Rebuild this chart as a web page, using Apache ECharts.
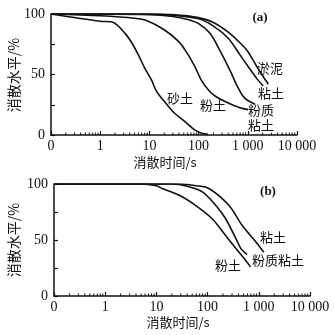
<!DOCTYPE html>
<html>
<head>
<meta charset="utf-8">
<script src="https://cdn.jsdelivr.net/npm/echarts@6/dist/echarts.min.js"></script>
<style>
  html, body { margin: 0; padding: 0; background: #fff; }
  #chart { width: 334px; height: 335px; }
</style>
</head>
<body>
<div id="chart"></div>
<script>
// panel (a)
var sandTimeA = [0.1, 1, 1.85, 3.2, 4.4, 6, 8.1, 11, 14, 19, 30.6, 53, 85, 115, 155];
var sandLevelA = [100, 94, 93, 84, 76, 66, 55, 45.5, 36, 29, 19, 11, 4, 1.4, 0.5];
var siltTimeA = [0.1, 1, 5, 9, 20, 40, 62, 85, 115, 160, 220, 370, 690, 1020];
var siltLevelA = [100, 98.5, 96.5, 94.5, 87, 77, 66, 56, 45, 37, 32, 27, 22.5, 21];
var siltyClayTimeA = [0.1, 10, 30, 60, 100, 170, 270, 440, 600, 800, 1000, 1400];
var siltyClayLevelA = [100, 99.5, 98, 95.5, 92, 84, 70, 53, 41, 32, 28.5, 25.5];
var clayTimeA = [0.1, 10, 30, 100, 200, 400, 700, 1000, 1500, 2050];
var clayLevelA = [100, 100, 99, 96, 90, 80, 66, 57, 47, 40.5];
var sludgeTimeA = [0.1, 10, 30, 100, 200, 400, 700, 1000, 1500, 2000, 2630];
var sludgeLevelA = [100, 100, 99.5, 97, 93, 85, 76, 69, 57, 49, 42];

// panel (b)
var siltTimeB = [0.1, 5, 10, 13, 28, 58, 123, 225, 355, 550, 690];
var siltLevelB = [100, 100, 98.5, 96, 90, 81, 69, 54, 42.6, 32, 26];
var siltyClayTimeB = [0.1, 20, 40, 79, 144, 225, 355, 443, 500, 590];
var siltyClayLevelB = [100, 100, 98, 93, 81, 69, 51.5, 42.6, 40, 37];
var clayTimeB = [0.1, 30, 60, 106, 260, 475, 870, 1260];
var clayLevelB = [100, 100, 98.5, 96, 81, 63, 48.5, 39];

// log minor tick positions on the time axis
var decades = [0.1, 1, 10, 100, 1000];
var minorSteps = [2, 3, 4, 5, 6, 7, 8, 9];

var serif = '"Liberation Serif", "DejaVu Serif", serif';
var cjk = '"Noto Sans CJK SC", sans-serif';

function pairs(xs, ys) {
    var out = [];
    for (var i = 0; i < xs.length; i++) out.push([xs[i], ys[i]]);
    return out;
}

var minorTicks = [];
decades.forEach(function (d) {
    minorSteps.forEach(function (m) { minorTicks.push([d * m, 0]); });
});

function fmtTime(v) {
    if (v < 1) return '0';
    if (v >= 10000) return '10 000';
    if (v >= 1000) return '1 000';
    return String(Math.round(v));
}

function xAxisCfg(gi) {
    return {
        type: 'log', logBase: 10, min: 0.1, max: 10000, gridIndex: gi,
        axisLine: { lineStyle: { color: '#111', width: 1.5 } },
        axisTick: { inside: true, length: 4, lineStyle: { color: '#111', width: 1.2 } },
        axisLabel: { color: '#111', fontFamily: serif, fontSize: 14, margin: 4, formatter: fmtTime },
        splitLine: { show: false }
    };
}

function yAxisCfg(gi) {
    return {
        type: 'value', min: 0, max: 100, interval: 50, gridIndex: gi,
        axisLine: { show: true, lineStyle: { color: '#111', width: 1.5 } },
        axisTick: { show: true, inside: true, length: 4, lineStyle: { color: '#111', width: 1.2 } },
        minorTick: { show: true, splitNumber: 2, length: 4, lineStyle: { color: '#111', width: 1.2 } },
        axisLabel: { color: '#111', fontFamily: serif, fontSize: 14, margin: 6 },
        splitLine: { show: false }
    };
}

function curve(data, gi) {
    return {
        type: 'line', data: data, xAxisIndex: gi, yAxisIndex: gi,
        showSymbol: false, smooth: 0.3, silent: true,
        lineStyle: { color: '#111', width: 1.6 }
    };
}

function tickSeries(gi) {
    return {
        type: 'custom', xAxisIndex: gi, yAxisIndex: gi, silent: true, clip: false,
        data: minorTicks,
        renderItem: function (params, api) {
            var p = api.coord([api.value(0), 0]);
            return {
                type: 'line',
                shape: { x1: p[0], y1: p[1], x2: p[0], y2: p[1] - 2.5 },
                style: { stroke: '#111', lineWidth: 1 }
            };
        }
    };
}

function txt(s, x, y, font, rot) {
    return {
        type: 'text', x: x, y: y, rotation: rot || 0, silent: true,
        style: { text: s, font: font, fill: '#111', textAlign: 'center', textVerticalAlign: 'middle' }
    };
}

var fCjk = '13px ' + cjk;
var fName = '13px ' + cjk;

var option = {
    backgroundColor: '#FFFFFF',
    animation: false,
    grid: [
        { left: 51, top: 14, width: 246, height: 121 },
        { left: 54, top: 184, width: 256, height: 112 }
    ],
    xAxis: [xAxisCfg(0), xAxisCfg(1)],
    yAxis: [yAxisCfg(0), yAxisCfg(1)],
    series: [
        curve(pairs(sandTimeA, sandLevelA), 0),
        curve(pairs(siltTimeA, siltLevelA), 0),
        curve(pairs(siltyClayTimeA, siltyClayLevelA), 0),
        curve(pairs(clayTimeA, clayLevelA), 0),
        curve(pairs(sludgeTimeA, sludgeLevelA), 0),
        curve(pairs(siltTimeB, siltLevelB), 1),
        curve(pairs(siltyClayTimeB, siltyClayLevelB), 1),
        curve(pairs(clayTimeB, clayLevelB), 1),
        tickSeries(0),
        tickSeries(1)
    ],
    graphic: [
        txt('(a)', 260, 18, 'bold 13px ' + serif),
        txt('淤泥', 270, 68, fCjk),
        txt('粘土', 271, 93, fCjk),
        txt('粉质', 261, 110, fCjk),
        txt('粘土', 261, 125, fCjk),
        txt('砂土', 180, 98, fCjk),
        txt('粉土', 213, 105, fCjk),
        txt('消散时间/s', 165, 162, fName),
        txt('消散水平/%', 14, 75, '14px ' + cjk, Math.PI / 2),
        txt('(b)', 268, 192, 'bold 13px ' + serif),
        txt('粘土', 273, 237, fCjk),
        txt('粉质粘土', 278, 260, fCjk),
        txt('粉土', 228, 265, fCjk),
        txt('消散时间/s', 178, 322, fName),
        txt('消散水平/%', 14, 240, '14px ' + cjk, Math.PI / 2)
    ]
};

var myChart = echarts.init(document.getElementById('chart'));
myChart.setOption(option);
</script>
</body>
</html>
